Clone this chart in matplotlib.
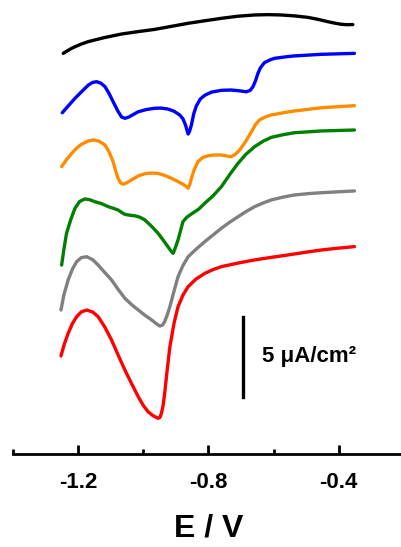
import matplotlib
matplotlib.use("Agg")
import matplotlib.pyplot as plt
from matplotlib.ticker import MultipleLocator

plt.rcParams['font.family'] = ['Liberation Sans', 'DejaVu Sans']
plt.rcParams['font.weight'] = 'bold'

# --- stacked voltammograms (current with offset, uA/cm2) ---
E_black = [-1.245, -1.22, -1.195, -1.169, -1.12, -1.066, -1.015, -0.964, -0.91, -0.862, -0.81, -0.760,
           -0.71, -0.658, -0.617, -0.577, -0.535, -0.495, -0.46, -0.434, -0.41, -0.393, -0.375, -0.357]
j_black = [25.04, 25.35, 25.58, 25.77, 26.02, 26.25, 26.40, 26.54, 26.74, 26.92, 27.08, 27.23,
           27.36, 27.44, 27.46, 27.44, 27.38, 27.29, 27.15, 27.02, 26.92, 26.86, 26.83, 26.84]

E_blue = [-1.248, -1.23, -1.209, -1.19, -1.168, -1.155, -1.143, -1.13, -1.117, -1.105, -1.092, -1.078,
          -1.066, -1.056, -1.045, -1.03, -1.015, -0.99, -0.964, -0.944, -0.924, -0.905, -0.888, -0.878,
          -0.870, -0.865, -0.862, -0.858, -0.852, -0.845, -0.837, -0.825, -0.811, -0.79, -0.760, -0.73,
          -0.705, -0.684, -0.672, -0.663, -0.655, -0.648, -0.64, -0.628, -0.61, -0.597, -0.56, -0.536,
          -0.454, -0.352]
j_blue = [21.33, 21.75, 22.23, 22.62, 23.06, 23.22, 23.27, 23.18, 22.96, 22.55, 22.02, 21.45,
          21.06, 20.98, 21.05, 21.22, 21.39, 21.53, 21.61, 21.62, 21.56, 21.42, 21.19, 20.95,
          20.56, 20.20, 20.00, 20.15, 20.56, 21.25, 21.75, 22.18, 22.42, 22.62, 22.73, 22.75,
          22.70, 22.64, 22.72, 22.96, 23.35, 23.79, 24.15, 24.46, 24.64, 24.73, 24.83, 24.88,
          24.98, 25.04]

E_orange = [-1.250, -1.235, -1.219, -1.205, -1.189, -1.17, -1.153, -1.135, -1.117, -1.105, -1.092, -1.085,
            -1.077, -1.069, -1.061, -1.05, -1.036, -1.015, -0.995, -0.975, -0.954, -0.935, -0.913, -0.895,
            -0.878, -0.868, -0.862, -0.857, -0.852, -0.843, -0.832, -0.818, -0.801, -0.780, -0.760, -0.745,
            -0.730, -0.718, -0.704, -0.685, -0.668, -0.655, -0.643, -0.625, -0.607, -0.57, -0.536, -0.49,
            -0.454, -0.40, -0.352]
j_orange = [17.96, 18.40, 18.79, 19.10, 19.36, 19.55, 19.63, 19.55, 19.31, 18.90, 18.27, 17.75,
            17.23, 16.95, 16.86, 16.95, 17.13, 17.38, 17.52, 17.56, 17.54, 17.42, 17.23, 17.05,
            16.86, 16.72, 16.61, 16.85, 17.23, 17.80, 18.27, 18.52, 18.64, 18.69, 18.69, 18.63,
            18.58, 18.72, 19.00, 19.55, 20.14, 20.60, 20.88, 21.07, 21.19, 21.33, 21.44, 21.55,
            21.64, 21.71, 21.77]

E_green = [-1.250, -1.243, -1.235, -1.222, -1.209, -1.195, -1.179, -1.165, -1.148, -1.128, -1.107, -1.092,
           -1.077, -1.066, -1.056, -1.04, -1.026, -1.01, -0.995, -0.975, -0.954, -0.939, -0.924, -0.915,
           -0.908, -0.902, -0.893, -0.885, -0.878, -0.866, -0.852, -0.83, -0.811, -0.785, -0.760, -0.735,
           -0.709, -0.685, -0.658, -0.632, -0.607, -0.57, -0.536, -0.454, -0.352]
j_green = [11.81, 12.80, 13.79, 14.65, 15.36, 15.78, 15.94, 15.90, 15.77, 15.65, 15.46, 15.36,
           15.25, 15.10, 14.98, 14.92, 14.89, 14.80, 14.63, 14.25, 13.79, 13.38, 12.96, 12.70,
           12.54, 12.85, 13.38, 13.98, 14.52, 14.80, 15.00, 15.30, 15.67, 16.15, 16.71, 17.45,
           18.17, 18.73, 19.21, 19.55, 19.79, 19.96, 20.08, 20.19, 20.25]

E_gray = [-1.252, -1.243, -1.230, -1.217, -1.204, -1.19, -1.173, -1.155, -1.138, -1.118, -1.097, -1.077,
          -1.056, -1.035, -1.015, -0.995, -0.974, -0.96, -0.949, -0.941, -0.934, -0.926, -0.918, -0.905,
          -0.893, -0.878, -0.862, -0.835, -0.811, -0.785, -0.760, -0.735, -0.709, -0.683, -0.658, -0.632,
          -0.607, -0.57, -0.536, -0.49, -0.454, -0.40, -0.352]
j_gray = [9.00, 9.95, 10.88, 11.55, 12.02, 12.27, 12.33, 12.15, 11.81, 11.35, 10.88, 10.30,
          9.73, 9.33, 9.00, 8.68, 8.38, 8.15, 8.00, 8.05, 8.27, 8.70, 9.21, 10.20,
          11.08, 11.78, 12.33, 12.85, 13.27, 13.70, 14.11, 14.48, 14.83, 15.17, 15.46, 15.69,
          15.88, 16.06, 16.19, 16.28, 16.33, 16.39, 16.44]

E_red = [-1.252, -1.242, -1.230, -1.217, -1.204, -1.19, -1.173, -1.155, -1.138, -1.118, -1.097, -1.077,
         -1.056, -1.035, -1.015, -1.0, -0.985, -0.97, -0.954, -0.948, -0.944, -0.939, -0.934, -0.926,
         -0.918, -0.905, -0.893, -0.878, -0.862, -0.838, -0.811, -0.785, -0.760, -0.71, -0.658, -0.607,
         -0.556, -0.505, -0.454, -0.40, -0.352]
j_red = [6.13, 6.85, 7.54, 8.15, 8.58, 8.88, 9.00, 8.88, 8.58, 7.95, 7.13, 6.20,
         5.25, 4.38, 3.58, 3.05, 2.64, 2.40, 2.23, 2.30, 2.54, 3.00, 3.79, 5.30,
         6.71, 8.20, 9.21, 9.93, 10.46, 10.93, 11.29, 11.53, 11.71, 11.93, 12.13, 12.29,
         12.44, 12.60, 12.75, 12.87, 12.96]

curves = [
    (E_black, j_black, 'black'),
    (E_blue, j_blue, '#0000FF'),
    (E_orange, j_orange, '#FF8C00'),
    (E_green, j_green, '#008000'),
    (E_gray, j_gray, '#808080'),
    (E_red, j_red, '#FF0000'),
]

# scale bar (5 uA/cm2)
bar_E = -0.693
bar_j = [3.58, 8.58]
bar_label = "5 \u03bcA/cm\u00b2"

fig = plt.figure(figsize=(4.01, 5.47), dpi=100)
ax = fig.add_axes([0.0317, 0.170, 0.9758, 0.830])

for E, j, c in curves:
    ax.plot(E, j, color=c, lw=2.4, solid_capstyle='round', solid_joinstyle='round')

ax.plot([bar_E, bar_E], bar_j, color='black', lw=2.4)
ax.text(bar_E + 0.059, 6.08, bar_label, fontsize=16, fontweight='bold',
        va='center', ha='left')

ax.set_xlim(-1.4, -0.2)
ax.set_ylim(0, 28.375)
ax.xaxis.set_minor_locator(MultipleLocator(0.2))
ax.set_xticks([-1.2, -0.8, -0.4])
ax.set_xticklabels(['-1.2', '-0.8', '-0.4'])
ax.tick_params(axis='x', which='major', direction='in', length=6.5, width=2,
               labelsize=16, pad=13)
ax.tick_params(axis='x', which='minor', direction='in', length=3.5, width=2)
for lab in ax.get_xticklabels():
    lab.set_fontweight('bold')
ax.set_yticks([])
for s in ['left', 'right', 'top']:
    ax.spines[s].set_visible(False)
ax.spines['bottom'].set_linewidth(2)
ax.set_xlabel('E / V', fontsize=23, fontweight='bold', labelpad=15)

fig.savefig('out.png', dpi=100)
